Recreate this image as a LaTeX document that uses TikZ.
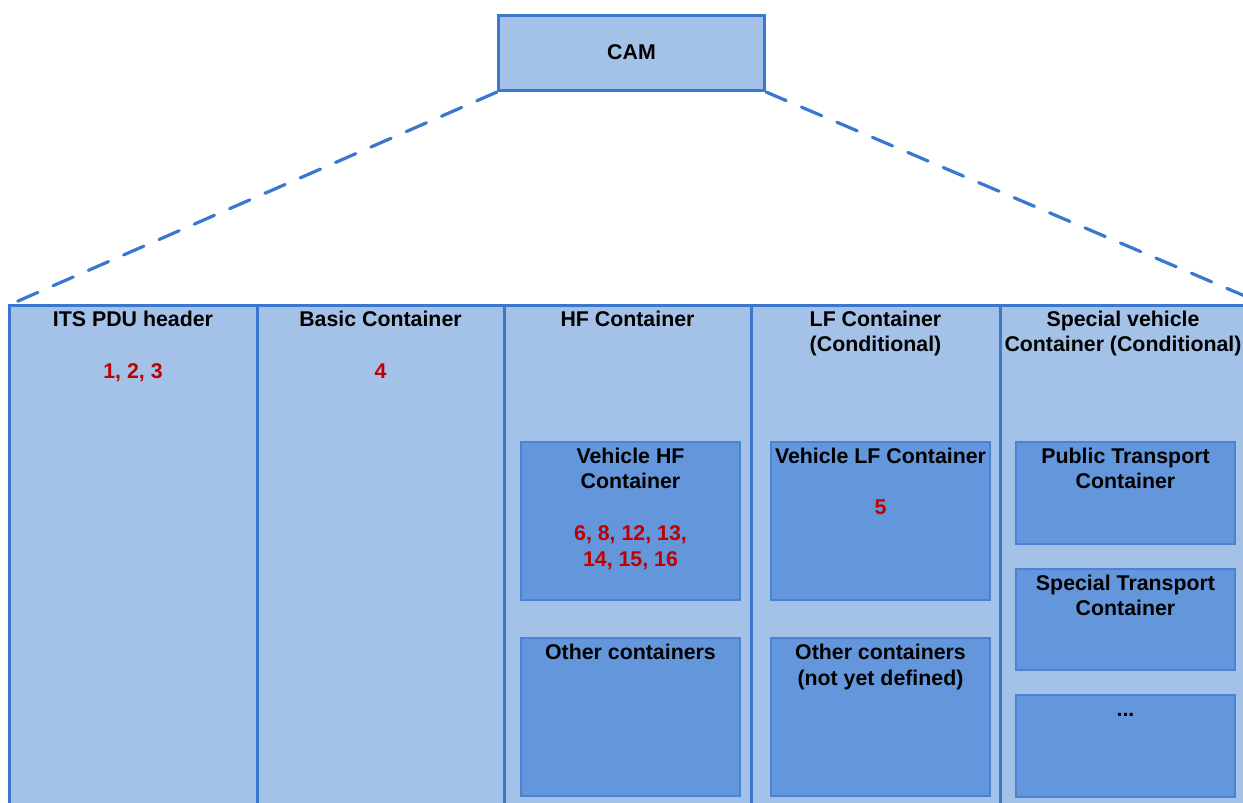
\documentclass[tikz,border=0pt]{standalone}
\usepackage{fontspec}
\setmainfont{Liberation Sans}
\definecolor{colfill}{HTML}{A4C2E8}
\definecolor{colline}{HTML}{3A78D0}
\definecolor{boxfill}{HTML}{6396DA}
\definecolor{boxline}{HTML}{4A82D4}
\definecolor{numred}{HTML}{C00000}
\tikzset{
  column/.style={draw=colline, fill=colfill, line width=2.25pt},
  inbox/.style={draw=boxline, fill=boxfill, line width=0.9pt},
  txt/.style={anchor=base, inner sep=0pt, font=\fontsize{16pt}{19pt}\selectfont\bfseries, text=black},
  num/.style={txt, text=numred},
  zoomline/.style={draw=colline, line width=2.4pt, line cap=round, dash pattern=on 16.5pt off 12.4pt},
}
\begin{document}
\begin{tikzpicture}[x=0.75pt,y=-0.75pt]
\useasboundingbox (0,0) rectangle (1243,803);
\clip (0,0) rectangle (1243,803);
% CAM box
\node[column, minimum width=266*0.75pt, minimum height=75*0.75pt, inner sep=0pt, anchor=north west,
      font=\fontsize{16pt}{19pt}\selectfont\bfseries] (cam) at (497,14) {\raisebox{1.5pt}{CAM}};
% columns
\draw[column] (9,305) rectangle (257,830);
\draw[column] (257,305) rectangle (504,830);
\draw[column] (504,305) rectangle (751,830);
\draw[column] (751,305) rectangle (1000,830);
\draw[column] (1000,305) rectangle (1266,830);
\coordinate (lc) at (9,305);
\coordinate (rc) at (1266,305);
\draw[zoomline] (cam.south west) -- (lc);
\draw[zoomline] (cam.south east) -- (rc);
% titles
\node[txt] (t1) at (133,326) {ITS PDU header};
\node[num] (n1) at (133,378) {1, 2, 3};
\node[txt] (t2) at (380.5,326) {Basic Container};
\node[num] (n2) at (380.5,378) {4};
\node[txt] (t3) at (627.5,326) {HF Container};
\node[txt] (t4a) at (875.5,326) {LF Container};
\node[txt] (t4b) at (875.5,351) {(Conditional)};
\node[txt] (t5a) at (1123,326) {Special vehicle};
\node[txt] (t5b) at (1123,351) {Container (Conditional)};
% inner boxes HF
\draw[inbox] (521,442) rectangle (740,600);
\node[txt] (vhf1) at (630.5,463) {Vehicle HF};
\node[txt] (vhf2) at (630.5,488) {Container};
\node[num] (vhfn1) at (630.5,540) {6, 8, 12, 13,};
\node[num] (vhfn2) at (630.5,566) {14, 15, 16};
\draw[inbox] (521,638) rectangle (740,796);
\node[txt] (ohf) at (630.5,659) {Other containers};
% LF
\draw[inbox] (771,442) rectangle (990,600);
\node[txt] (vlf) at (880.5,463) {Vehicle LF Container};
\node[num] (vlfn) at (880.5,514) {5};
\draw[inbox] (771,638) rectangle (990,796);
\node[txt] (olf1) at (880.5,659) {Other containers};
\node[txt] (olf2) at (880.5,685) {(not yet defined)};
% Special
\draw[inbox] (1016,442) rectangle (1235,544);
\node[txt] (pt1) at (1125.5,463) {Public Transport};
\node[txt] (pt2) at (1125.5,488) {Container};
\draw[inbox] (1016,569) rectangle (1235,670);
\node[txt] (st1) at (1125.5,590) {Special Transport};
\node[txt] (st2) at (1125.5,615) {Container};
\draw[inbox] (1016,695) rectangle (1235,797);
\node[txt] (dots) at (1125.5,716) {...};
\end{tikzpicture}
\end{document}
